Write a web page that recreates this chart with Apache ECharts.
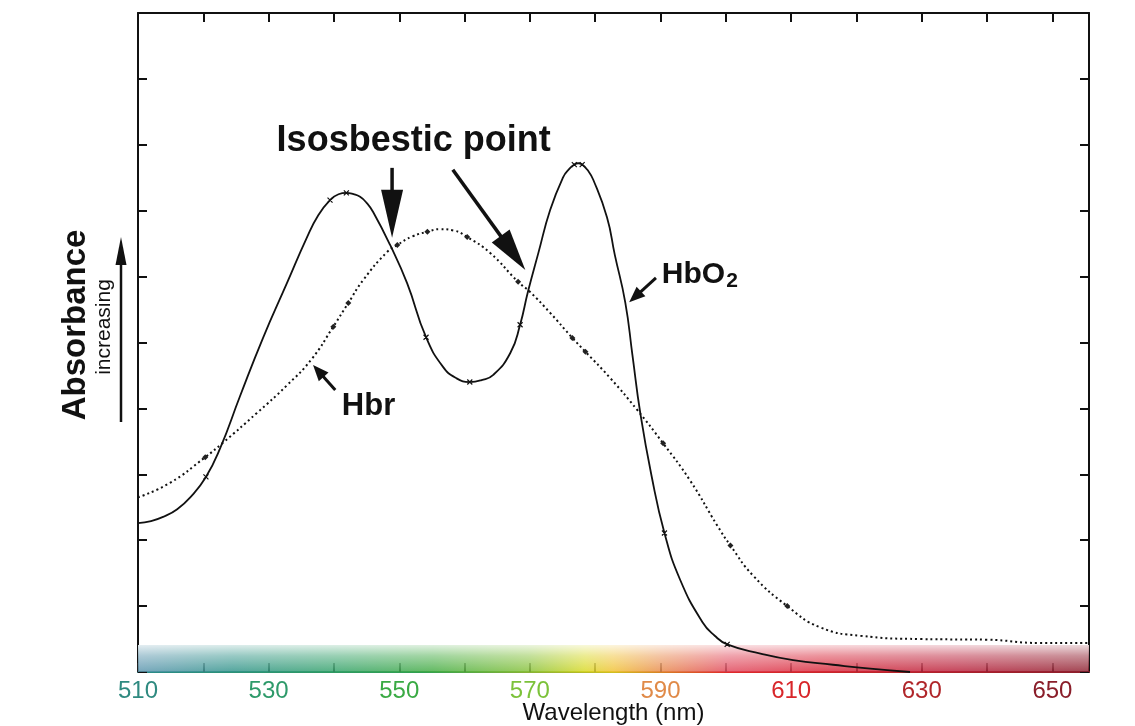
<!DOCTYPE html>
<html><head><meta charset="utf-8">
<script src="https://cdn.jsdelivr.net/npm/echarts@6/dist/echarts.min.js"></script>
<style>html,body{margin:0;padding:0;background:#fff}#chart{width:1135px;height:726px}</style>
</head><body><div id="chart"></div>
<script>
// ---- data ----
const hbo2Wavelength = [510, 512.0, 514.0, 516.0, 518.0, 520.4, 522.6, 525.6, 529.1, 532.8, 535.8, 537.6, 539.4, 540.7, 541.9, 543.0, 544.0, 545.0, 546.0, 548.6, 551.2, 554.1, 556.7, 558.7, 560.8, 562.6, 564.4, 567.0, 568.5, 569.7, 571.3, 573.1, 575.1, 576.0, 576.8, 577.4, 578.0, 578.8, 579.7, 581.8, 583.0, 584.6, 585.7, 586.9, 588.6, 590.6, 593.0, 596.4, 598.3, 600.2, 605.3, 610.3, 616.4, 622.1, 628.2];
const hbo2Absorbance = [2.26, 2.29, 2.36, 2.47, 2.65, 2.96, 3.40, 4.18, 5.06, 5.90, 6.58, 6.93, 7.16, 7.25, 7.27, 7.25, 7.21, 7.12, 6.98, 6.48, 5.90, 5.08, 4.63, 4.46, 4.40, 4.43, 4.51, 4.84, 5.27, 5.77, 6.36, 7.01, 7.51, 7.63, 7.70, 7.72, 7.70, 7.62, 7.47, 6.90, 6.33, 5.61, 4.81, 3.93, 2.99, 2.11, 1.40, 0.76, 0.55, 0.42, 0.28, 0.18, 0.11, 0.05, 0.0];
const hbWavelength = [510, 514.9, 520.3, 522.9, 528.2, 532.8, 536.6, 539.9, 542.2, 544.5, 548.1, 549.7, 552.0, 554.3, 556.2, 558.3, 560.4, 563.9, 568.2, 570.0, 573.1, 576.5, 578.5, 582.3, 586.4, 590.4, 594.5, 598.7, 600.7, 604.2, 609.4, 614.4, 620.6, 629.8, 640.0, 648.1, 655.6];
const hbAbsorbance = [2.65, 2.87, 3.26, 3.47, 3.93, 4.35, 4.75, 5.24, 5.60, 5.95, 6.37, 6.48, 6.61, 6.68, 6.72, 6.70, 6.60, 6.36, 5.92, 5.77, 5.45, 5.07, 4.86, 4.46, 3.98, 3.47, 2.91, 2.22, 1.92, 1.46, 1.00, 0.68, 0.55, 0.50, 0.49, 0.44, 0.44];
// wavelengths where the reference shows small point markers
const hbo2MarkerAt = [520.4, 539.4, 541.9, 554.1, 560.8, 568.5, 576.8, 578.0, 590.6, 600.2];
const hbMarkerAt = [520.3, 539.9, 542.2, 549.7, 554.3, 560.4, 568.2, 576.5, 578.5, 590.4, 600.7, 609.4];
const xTickValues = [510, 520, 530, 540, 550, 560, 570, 580, 590, 600, 610, 620, 630, 640, 650];
const xLabelValues = [510, 530, 550, 570, 590, 610, 630, 650];
const xLabelColors = ['#2f8a80', '#2e9a6a', '#3aaa44', '#7cc23a', '#e08a48', '#d8262a', '#b0262a', '#8a1e2a'];
const X_MIN = 510, X_MAX = 655.6, Y_MIN = 0, Y_MAX = 10, Y_INTERVAL = 1, X_INTERVAL = 10;
const BAND_TOP = 0.41;
// annotation arrows in data coordinates: [tailX, tailY, tipX, tipY]
const isoArrows = [[548.9, 7.65, 548.9, 6.59], [558.2, 7.62, 569.3, 6.10]];
const hbrArrow = [540.2, 4.28, 536.8, 4.66];
const hbo2Arrow = [589.3, 5.98, 585.2, 5.61];
const isoLabelAt = [552.2, 8.05];
const hbrLabelAt = [545.3, 4.03];
const hbo2LabelAt = [590.2, 6.03];

const FONT = '"Liberation Sans", Arial, Helvetica, sans-serif';
const CROSS = 'path://M0,0L10,10M10,0L0,10Z';
const withMarkers = (xs, ys, marks, sym) => xs.map((x, i) => ({
  value: [x, ys[i]],
  symbol: marks.indexOf(x) >= 0 ? sym : 'none'
}));

const chart = echarts.init(document.getElementById('chart'), null, {renderer: 'canvas'});

const frameAxis = (pos) => ({
  axisLine: {show: true, onZero: false, lineStyle: {color: '#111', width: 2}},
  axisTick: {show: true, inside: true, length: 9, lineStyle: {color: '#111', width: 2}},
  axisLabel: {show: false},
  splitLine: {show: false},
  position: pos
});

const bandGradient = new echarts.graphic.LinearGradient(0, 0, 1, 0, [
  {offset: 0.00, color: '#5a94ae'},
  {offset: 0.10, color: '#2e9288'},
  {offset: 0.21, color: '#30a066'},
  {offset: 0.31, color: '#40aa40'},
  {offset: 0.41, color: '#84c036'},
  {offset: 0.47, color: '#d8d820'},
  {offset: 0.50, color: '#f0c030'},
  {offset: 0.55, color: '#e88848'},
  {offset: 0.62, color: '#e04458'},
  {offset: 0.72, color: '#d82436'},
  {offset: 0.86, color: '#b81c36'},
  {offset: 1.00, color: '#8c1c2c'}
]);
const fadeGradient = new echarts.graphic.LinearGradient(0, 0, 0, 1, [
  {offset: 0, color: 'rgba(255,255,255,0.8)'},
  {offset: 0.4, color: 'rgba(255,255,255,0.4)'},
  {offset: 1, color: 'rgba(255,255,255,0.0)'}
]);
const axisGradient = new echarts.graphic.LinearGradient(0, 0, 1, 0, [
  {offset: 0, color: '#2a8a8a'},
  {offset: 0.3, color: '#30a050'},
  {offset: 0.5, color: '#d0c020'},
  {offset: 0.62, color: '#e02a2a'},
  {offset: 1, color: '#8a1e2a'}
]);

chart.setOption({
  animation: false,
  backgroundColor: '#fff',
  grid: {left: 138, right: 46, top: 13, bottom: 54, containLabel: false, outerBoundsMode: 'none'},
  xAxis: [
    Object.assign(frameAxis('bottom'), {
      type: 'value', min: X_MIN, max: X_MAX, interval: X_INTERVAL,
      axisLine: {show: true, onZero: false, lineStyle: {color: axisGradient, width: 2}},
      axisTick: {show: true, inside: true, length: 9, customValues: xTickValues, lineStyle: {color: '#222', width: 2}},
      axisLabel: {
        show: true, customValues: xLabelValues, margin: 7,
        fontSize: 24, fontFamily: '"Liberation Sans Narrow", ' + FONT,
        color: (v) => xLabelColors[xLabelValues.indexOf(Number(v))] || '#333'
      },
      name: 'Wavelength (nm)', nameLocation: 'middle', nameGap: 29, nameMoveOverlap: false,
      nameTextStyle: {fontSize: 24, color: '#111', fontFamily: FONT}
    }),
    Object.assign(frameAxis('top'), {
      type: 'value', min: X_MIN, max: X_MAX, interval: X_INTERVAL,
      axisTick: {show: true, inside: true, length: 9, customValues: xTickValues, lineStyle: {color: '#111', width: 2}}
    })
  ],
  yAxis: [
    Object.assign(frameAxis('left'), {type: 'value', min: Y_MIN, max: Y_MAX, interval: Y_INTERVAL}),
    Object.assign(frameAxis('right'), {type: 'value', min: Y_MIN, max: Y_MAX, interval: Y_INTERVAL})
  ],
  series: [
    {
      name: 'HbO2', type: 'line', xAxisIndex: 0, yAxisIndex: 0,
      data: withMarkers(hbo2Wavelength, hbo2Absorbance, hbo2MarkerAt, CROSS),
      smooth: 0.5, showSymbol: true, showAllSymbol: true, symbolSize: 5, z: 5,
      itemStyle: {color: '#111', borderColor: '#111', borderWidth: 1.2},
      lineStyle: {color: '#111', width: 1.8, type: 'solid'},
      markArea: {
        silent: true,
        data: [
          [{xAxis: X_MIN, yAxis: 0, itemStyle: {color: bandGradient, opacity: 0.82}}, {xAxis: X_MAX, yAxis: BAND_TOP}],
          [{xAxis: X_MIN, yAxis: 0, itemStyle: {color: fadeGradient, opacity: 1}}, {xAxis: X_MAX, yAxis: BAND_TOP}]
        ]
      }
    },
    {
      name: 'Hbr', type: 'line', xAxisIndex: 0, yAxisIndex: 0,
      data: withMarkers(hbWavelength, hbAbsorbance, hbMarkerAt, 'diamond'),
      smooth: 0.5, showSymbol: true, showAllSymbol: true, symbolSize: 6, z: 5,
      itemStyle: {color: '#222', borderWidth: 0},
      lineStyle: {color: '#111', width: 2, type: [2, 3]}
    }
  ]
});

// ---- annotations placed through the chart's scales ----
const px = (p) => chart.convertToPixel({xAxisIndex: 0, yAxisIndex: 0}, p);
function arrow(a, headLen, headW, shaftW) {
  const t = px([a[0], a[1]]), h = px([a[2], a[3]]);
  const dx = h[0] - t[0], dy = h[1] - t[1], L = Math.hypot(dx, dy);
  const ux = dx / L, uy = dy / L, nx = -uy, ny = ux;
  const bx = h[0] - ux * headLen, by = h[1] - uy * headLen;
  return [
    {type: 'line', silent: true, z: 20, shape: {x1: t[0], y1: t[1], x2: bx + ux * 2, y2: by + uy * 2},
      style: {stroke: '#111', lineWidth: shaftW}},
    {type: 'polygon', silent: true, z: 20,
      shape: {points: [[h[0], h[1]], [bx + nx * headW / 2, by + ny * headW / 2], [bx - nx * headW / 2, by - ny * headW / 2]]},
      style: {fill: '#111'}}
  ];
}
const isoP = px(isoLabelAt), hbrP = px(hbrLabelAt), hbo2P = px(hbo2LabelAt);
const graphics = [].concat(
  arrow(isoArrows[0], 48, 22, 3.5),
  arrow(isoArrows[1], 42, 22, 3.5),
  arrow(hbrArrow, 16, 13, 3),
  arrow(hbo2Arrow, 16, 13, 3),
  [
    {type: 'text', silent: true, z: 20, x: isoP[0], y: isoP[1],
      style: {text: 'Isosbestic point', font: 'bold 36px ' + FONT, fill: '#111', align: 'center', verticalAlign: 'middle'}},
    {type: 'text', silent: true, z: 20, x: hbrP[0], y: hbrP[1],
      style: {text: 'Hbr', font: 'bold 31px ' + FONT, fill: '#111', align: 'center', verticalAlign: 'middle'}},
    {type: 'text', silent: true, z: 20, x: hbo2P[0], y: hbo2P[1],
      style: {text: '{a|HbO}{s|2}', fill: '#111', align: 'left', verticalAlign: 'middle',
        rich: {
          a: {fontSize: 30, fontWeight: 'bold', fontFamily: FONT, fill: '#111', lineHeight: 34},
          s: {fontSize: 21, fontWeight: 'bold', fontFamily: FONT, fill: '#111', lineHeight: 34, padding: [14, 0, 0, 1]}
        }}},
    {type: 'text', silent: true, z: 20, x: 76, y: 325, rotation: Math.PI / 2,
      style: {text: 'Absorbance', font: 'bold 33px ' + FONT, fill: '#111', align: 'center', verticalAlign: 'middle'}},
    {type: 'text', silent: true, z: 20, x: 104, y: 327, rotation: Math.PI / 2,
      style: {text: 'increasing', font: '21px ' + FONT, fill: '#111', align: 'center', verticalAlign: 'middle'}},
    {type: 'line', silent: true, z: 20, shape: {x1: 121, y1: 422, x2: 121, y2: 262}, style: {stroke: '#111', lineWidth: 2.5}},
    {type: 'polygon', silent: true, z: 20, shape: {points: [[121, 237], [115.5, 265], [126.5, 265]]}, style: {fill: '#111'}}
  ]
);
chart.setOption({graphic: graphics});
</script></body></html>
